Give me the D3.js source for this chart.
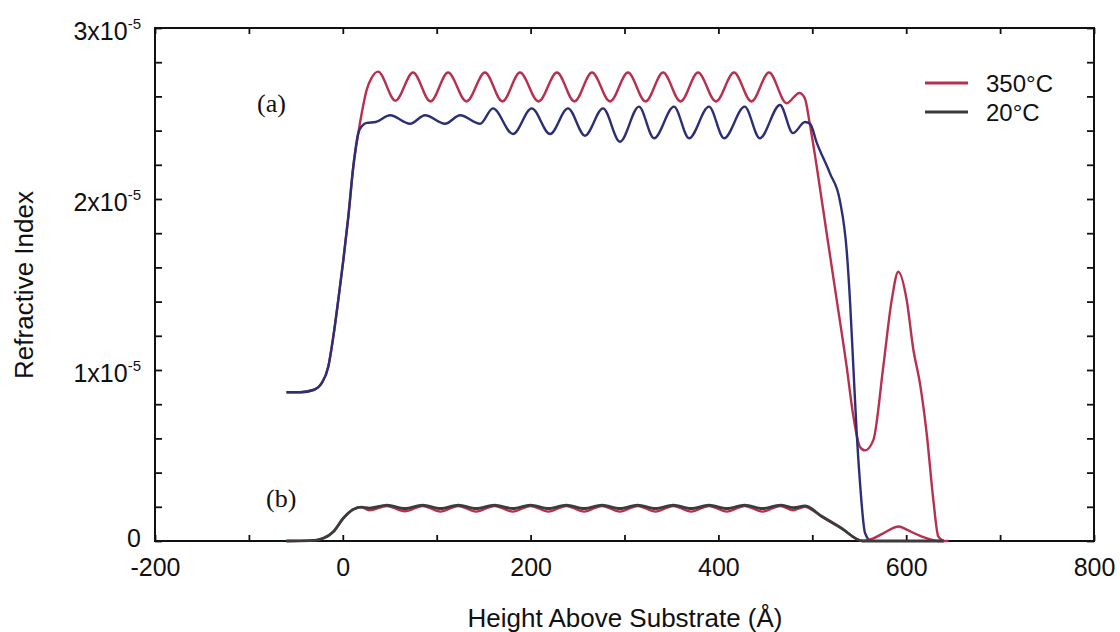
<!DOCTYPE html>
<html>
<head>
<meta charset="utf-8">
<script src="https://cdn.jsdelivr.net/npm/d3@7/dist/d3.min.js"></script>
<style>
  html, body { margin: 0; padding: 0; background: #ffffff; }
  svg { display: block; }
</style>
</head>
<body>
<svg id="chart" width="1120" height="632"></svg>
<script>
// ---------------- DATA (refractive index values in units of 1e-6) ----------------
const xTickLabels = [-200, 0, 200, 400, 600, 800];
const yTickLabels = [0, 10, 20, 30];            // 0, 1x10^-5, 2x10^-5, 3x10^-5
const seriesNames = ["350°C", "20°C"];

// (a) 350°C
const heightA350 = [-60, -45, -31.4, -22.5, -15.4, -10.1, -4.8, 0.5, 5.9, 11.2, 16.5, 20.1, 25.5, 30.8,
  37.5, 56.1, 74.8, 93.4, 112.1, 131.7, 151.4, 170.0, 188.7, 208.4, 228.1, 246.7, 265.4, 284.6,
  303.7, 322.4, 341.1, 359.7, 378.3, 397.4, 416.6, 435.2, 453.9, 472.7, 486.2, 492, 497,
  504.7, 515.3, 526, 536.6, 543.7, 550.8, 556.1, 565, 575.6, 584.6, 591.6, 600.5, 607.6,
  614.7, 621.8, 628.9, 634.2, 640];
const indexA350 = [8.7, 8.7, 8.83, 9.23, 10.2, 11.95, 14.1, 16.4, 18.97, 21.9, 23.85, 25.0, 26.4, 27.1,
  27.45, 25.75, 27.4, 25.7, 27.4, 25.7, 27.4, 25.7, 27.4, 25.7, 27.4, 25.7, 27.4, 25.7,
  27.4, 25.7, 27.4, 25.7, 27.4, 25.7, 27.4, 25.7, 27.4, 25.6, 26.2, 25.9, 24.5,
  21.9, 18.0, 14.1, 10.2, 7.3, 5.5, 5.3, 5.9, 10.2, 14.1, 15.75, 14.1, 11.2,
  9.2, 6.3, 2.4, 0.25, 0];

// (a) 20°C
const heightA20 = [-60, -45, -31.4, -22.5, -15.4, -10.1, -4.8, 0.5, 5.9, 11.2, 16.5, 21, 25.5, 35,
  50.3, 71.6, 87.6, 108.9, 124.9, 146.2, 159.9, 181.2, 201.2, 220.7, 239.8, 257.9, 277.1, 295.2,
  315.4, 331.4, 352.7, 368.7, 390, 406, 428, 444, 465.6, 479.4, 492.2, 497.7, 504.7, 518.8,
  529.4, 536.6, 540.1, 543.7, 547.3, 550.8, 556.1, 561.4];
const indexA20 = [8.7, 8.7, 8.83, 9.23, 10.2, 11.95, 14.1, 16.4, 18.97, 21.9, 23.85, 24.3, 24.45, 24.5,
  24.9, 24.4, 24.9, 24.4, 24.9, 24.4, 25.3, 23.8, 25.3, 23.8, 25.3, 23.7, 25.3, 23.35,
  25.4, 23.55, 25.4, 23.55, 25.4, 23.55, 25.4, 23.55, 25.5, 23.85, 24.5, 24.4, 23.3, 21.5,
  19.9, 17.0, 14.1, 10.2, 6.3, 3.4, 0.47, 0];

// (b) 350°C
const heightB350 = [-60, -35, -20.8, -10.1, 0.5, 11.2, 20, 28, 47, 66, 85, 104, 123, 142, 161.5,
  181, 200, 219, 238, 257, 276, 295, 314, 333, 352, 371, 390, 409, 428, 447, 466, 480, 492,
  510, 530, 553.7, 565, 575.6, 592.3, 600.5, 615, 635, 645];
const indexB350 = [0, 0.02, 0.16, 0.54, 1.33, 1.85, 1.97, 1.8, 2.05, 1.74, 2.05, 1.72, 2.05, 1.72, 2.05,
  1.72, 2.05, 1.72, 2.05, 1.72, 2.05, 1.72, 2.05, 1.72, 2.05, 1.72, 2.05, 1.72, 2.05, 1.72, 2.05, 1.8, 2.0,
  1.42, 0.78, 0, 0.15, 0.45, 0.85, 0.66, 0.3, 0, 0];

// (b) 20°C
const heightB20 = [-60, -35, -20.8, -10.1, 0.5, 11.2, 20, 28, 47, 66, 85, 104, 123, 142, 161.5,
  181, 200, 219, 238, 257, 276, 295, 314, 333, 352, 371, 390, 409, 428, 447, 466, 480, 492,
  510, 530, 553.7, 600, 640];
const indexB20 = [0, 0.02, 0.16, 0.54, 1.33, 1.85, 1.98, 1.92, 2.1, 1.9, 2.1, 1.9, 2.1, 1.9, 2.1,
  1.9, 2.1, 1.9, 2.1, 1.9, 2.1, 1.9, 2.1, 1.9, 2.1, 1.9, 2.1, 1.9, 2.1, 1.9, 2.1, 1.95, 2.05,
  1.45, 0.79, 0, 0, 0];

// ---------------- STYLE ----------------
const RED = "#b8304f";
const NAVY = "#2c2f76";
const DARK = "#3b3b3e";
const FONT = "'Liberation Sans', Arial, sans-serif";
const SERIF = "'Liberation Serif', 'Times New Roman', serif";

const plot = { left: 155, right: 1094, top: 28, bottom: 541 };

const svg = d3.select("#chart");
const x = d3.scaleLinear().domain([-200, 800]).range([plot.left, plot.right]);
const y = d3.scaleLinear().domain([0, 30]).range([plot.bottom, plot.top]);

const zip = (xs, ys) => xs.map((v, i) => [v, ys[i]]);
const line = d3.line().x(d => x(d[0])).y(d => y(d[1])).curve(d3.curveMonotoneX);

// ---------------- AXES ----------------
const xAll = d3.range(-200, 801, 100);
const yAll = d3.range(0, 31, 2);

function styleAxis(g) {
  g.select(".domain").remove();
  g.selectAll(".tick line").attr("stroke", "#111").attr("stroke-width", 1.8);
  g.selectAll(".tick text").attr("fill", "#111").attr("font-family", FONT);
}

svg.append("g").attr("transform", `translate(0,${plot.bottom})`)
  .call(d3.axisBottom(x).tickValues(xAll).tickSize(-6).tickPadding(17)
    .tickFormat(d => xTickLabels.includes(d) ? String(d) : ""))
  .call(styleAxis)
  .selectAll(".tick text").attr("font-size", 25);

svg.append("g").attr("transform", `translate(0,${plot.top})`)
  .call(d3.axisTop(x).tickValues(xAll).tickSize(-6).tickFormat(""))
  .call(styleAxis);

const yAxisG = svg.append("g").attr("transform", `translate(${plot.left},0)`)
  .call(d3.axisLeft(y).tickValues(yAll).tickSize(-7).tickPadding(14).tickFormat(""))
  .call(styleAxis);

yAxisG.selectAll(".tick text").each(function (d) {
  const t = d3.select(this).attr("font-size", 25).attr("dy", "0.47em");
  if (!yTickLabels.includes(d)) { t.text(""); return; }
  if (d === 0) { t.attr("dy", "0.2em").text("0"); return; }
  t.text("");
  t.append("tspan").text(`${d / 10}x10`);
  t.append("tspan").attr("dy", -11).attr("font-size", 15).text("-5");
});

svg.append("g").attr("transform", `translate(${plot.right},0)`)
  .call(d3.axisRight(y).tickValues(yAll).tickSize(-7).tickFormat(""))
  .call(styleAxis);

// frame
svg.append("rect")
  .attr("x", plot.left).attr("y", plot.top)
  .attr("width", plot.right - plot.left).attr("height", plot.bottom - plot.top)
  .attr("fill", "none").attr("stroke", "#111").attr("stroke-width", 2);

// ---------------- LINES ----------------
const g = svg.append("g");
g.append("path").datum(zip(heightA350, indexA350)).attr("d", line)
  .attr("fill", "none").attr("stroke", RED).attr("stroke-width", 2.4);
g.append("path").datum(zip(heightA20, indexA20)).attr("d", line)
  .attr("fill", "none").attr("stroke", NAVY).attr("stroke-width", 2.4);
g.append("path").datum(zip(heightB350, indexB350)).attr("d", line)
  .attr("fill", "none").attr("stroke", RED).attr("stroke-width", 2.4);
g.append("path").datum(zip(heightB20, indexB20)).attr("d", line)
  .attr("fill", "none").attr("stroke", DARK).attr("stroke-width", 2.8);

// ---------------- LABELS ----------------
svg.append("text").attr("x", 257).attr("y", 112)
  .attr("font-family", SERIF).attr("font-size", 26).attr("fill", "#111").text("(a)");
svg.append("text").attr("x", 266).attr("y", 507)
  .attr("font-family", SERIF).attr("font-size", 26).attr("fill", "#111").text("(b)");

svg.append("text").attr("x", 625).attr("y", 627).attr("text-anchor", "middle")
  .attr("font-family", FONT).attr("font-size", 26).attr("fill", "#111")
  .text("Height Above Substrate (Å)");

svg.append("text").attr("transform", "translate(33,285) rotate(-90)")
  .attr("text-anchor", "middle")
  .attr("font-family", FONT).attr("font-size", 26).attr("fill", "#111")
  .text("Refractive Index");

// ---------------- LEGEND ----------------
const legendColors = [RED, DARK];
const lg = svg.append("g");
seriesNames.forEach((name, i) => {
  const yy = 83 + i * 29;
  lg.append("line").attr("x1", 925).attr("x2", 968).attr("y1", yy).attr("y2", yy)
    .attr("stroke", legendColors[i]).attr("stroke-width", 3);
  lg.append("text").attr("x", 986).attr("y", yy + 8.5)
    .attr("font-family", FONT).attr("font-size", 24).attr("fill", "#111").text(name);
});
</script>
</body>
</html>
